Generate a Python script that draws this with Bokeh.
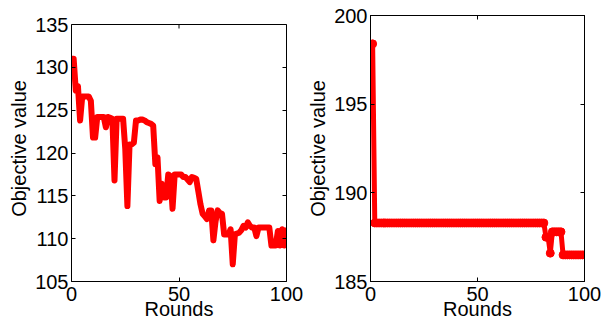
from bokeh.plotting import figure
from bokeh.models import LinearAxis, FixedTicker, Range1d, Span
from bokeh.layouts import row
from bokeh.embed import file_html
from bokeh.resources import INLINE

# ---- data ----
rounds_a = list(range(0, 101))
objective_a = [
    131.0, 131.0, 127.3, 127.8, 123.8, 126.6, 126.6, 126.6, 126.6, 126.1,
    121.8, 121.8, 124.2, 124.2, 124.2, 124.2, 123.0, 124.2, 124.1, 124.0,
    116.8, 124.0, 124.0, 124.0, 124.0, 120.5, 113.8, 121.0, 121.0, 121.2,
    123.8, 123.8, 123.9, 123.9, 123.8, 123.6, 123.5, 123.4, 123.2, 118.7,
    119.5, 114.4, 116.4, 114.8, 114.8, 117.5, 117.3, 113.5, 117.5, 117.5,
    117.5, 117.5, 117.2, 117.2, 116.9, 116.6, 117.2, 117.1, 117.0, 115.5,
    114.0, 112.9, 112.6, 112.3, 113.3, 113.3, 109.8, 112.0, 113.3, 113.0,
    112.9, 110.5, 110.5, 110.5, 111.1, 107.0, 110.5, 110.6, 110.7, 111.0,
    111.5, 111.3, 111.9, 111.5, 111.3, 111.3, 110.3, 111.3, 111.3, 111.3,
    111.3, 111.3, 111.3, 109.2, 109.2, 109.2, 110.9, 109.2, 111.1, 109.2,
    111.3,
]

rounds_b = list(range(1, 101))
objective_b = [
    198.4, 188.3, 188.3, 188.3, 188.3, 188.3, 188.3, 188.3, 188.3, 188.3,
    188.3, 188.3, 188.3, 188.3, 188.3, 188.3, 188.3, 188.3, 188.3, 188.3,
    188.3, 188.3, 188.3, 188.3, 188.3, 188.3, 188.3, 188.3, 188.3, 188.3,
    188.3, 188.3, 188.3, 188.3, 188.3, 188.3, 188.3, 188.3, 188.3, 188.3,
    188.3, 188.3, 188.3, 188.3, 188.3, 188.3, 188.3, 188.3, 188.3, 188.3,
    188.3, 188.3, 188.3, 188.3, 188.3, 188.3, 188.3, 188.3, 188.3, 188.3,
    188.3, 188.3, 188.3, 188.3, 188.3, 188.3, 188.3, 188.3, 188.3, 188.3,
    188.3, 188.3, 188.3, 188.3, 188.3, 188.3, 188.3, 188.3, 188.3, 188.3,
    188.3, 187.5, 187.5, 186.6, 187.8, 187.8, 187.8, 187.8, 187.8, 186.5,
    186.5, 186.5, 186.5, 186.5, 186.5, 186.5, 186.5, 186.5, 186.5, 186.5,
]

x_ticks = [0, 50, 100]
y_ticks_a = [105, 110, 115, 120, 125, 130, 135]
y_ticks_b = [185, 190, 195, 200]

FONT = "Liberation Sans"
FS = "20px"
RED = "#ff0000"

H = 323
TOP = 15      # both frames share the same top edge
BOTTOM = 42
FRAME_H = H - TOP - BOTTOM
# left panel's real box is shorter (starts 9px lower); extend its range
LEFT_BOX_H = FRAME_H - 9


def style_axis(ax):
    ax.major_tick_in = 4
    ax.major_tick_out = 0
    ax.minor_tick_line_color = None
    ax.axis_line_color = "black"
    ax.major_tick_line_color = "black"
    ax.major_label_text_font = FONT
    ax.major_label_text_font_size = FS
    ax.major_label_text_color = "black"
    ax.axis_label_text_font = FONT
    ax.axis_label_text_font_size = FS
    ax.axis_label_text_font_style = "normal"
    ax.axis_label_text_color = "black"


def tick_only_axis(ticks, bounds=None):
    ax = LinearAxis(ticker=FixedTicker(ticks=ticks),
                    major_label_text_font_size="1px",
                    major_label_text_color=None, major_label_standoff=0,
                    major_tick_in=4, major_tick_out=0,
                    minor_tick_line_color=None, axis_line_color="black")
    if bounds is not None:
        ax.bounds = bounds
    return ax


def make_fig(width, bl, br, y_lo, y_hi, y_ticks, y_bounds=None):
    p = figure(width=width, height=H, output_backend="svg",
               toolbar_location=None,
               x_range=Range1d(0, 100), y_range=Range1d(y_lo, y_hi),
               min_border_left=bl, min_border_right=br,
               min_border_top=TOP, min_border_bottom=BOTTOM)
    p.xgrid.visible = False
    p.ygrid.visible = False
    p.background_fill_color = "white"
    p.border_fill_color = "white"

    p.xaxis.ticker = FixedTicker(ticks=x_ticks)
    p.yaxis.ticker = FixedTicker(ticks=y_ticks)
    style_axis(p.xaxis[0])
    style_axis(p.yaxis[0])
    p.xaxis.axis_label = "Rounds"
    p.yaxis.axis_label = "Objective value"
    p.xaxis.major_label_standoff = 5
    p.xaxis.axis_label_standoff = -6
    p.yaxis.major_label_standoff = 3
    p.yaxis.axis_label_standoff = 2
    if y_bounds is not None:
        p.yaxis.bounds = y_bounds
    p.add_layout(tick_only_axis(y_ticks, y_bounds), "right")
    return p


# ---- left panel ----
a_lo, a_hi = y_ticks_a[0], y_ticks_a[-1]
a_top = a_lo + (a_hi - a_lo) * FRAME_H / LEFT_BOX_H
p1 = make_fig(304, 71, 18, a_lo, a_top, y_ticks_a, (a_lo, a_hi))
p1.outline_line_color = None
p1.add_layout(Span(location=a_hi, dimension="width", line_color="black",
                   line_width=1))
tick_len = (a_hi - a_lo) * 4 / LEFT_BOX_H
p1.segment(x0=x_ticks, y0=[a_hi] * len(x_ticks), x1=x_ticks,
           y1=[a_hi - tick_len] * len(x_ticks), line_color="black",
           line_width=1)
p1.line(rounds_a, objective_a, line_color=RED, line_width=6, line_join="round")

# ---- right panel ----
p2 = make_fig(299, 65, 19, y_ticks_b[0], y_ticks_b[-1], y_ticks_b)
p2.outline_line_color = "black"
p2.add_layout(tick_only_axis(x_ticks), "above")
p2.line(rounds_b, objective_b, line_color=RED, line_width=5, line_join="round")
p2.scatter(rounds_b, objective_b, size=8, fill_color=RED, line_color=RED)

layout = row(p1, p2)
open("out.html", "w").write(file_html(layout, INLINE))
